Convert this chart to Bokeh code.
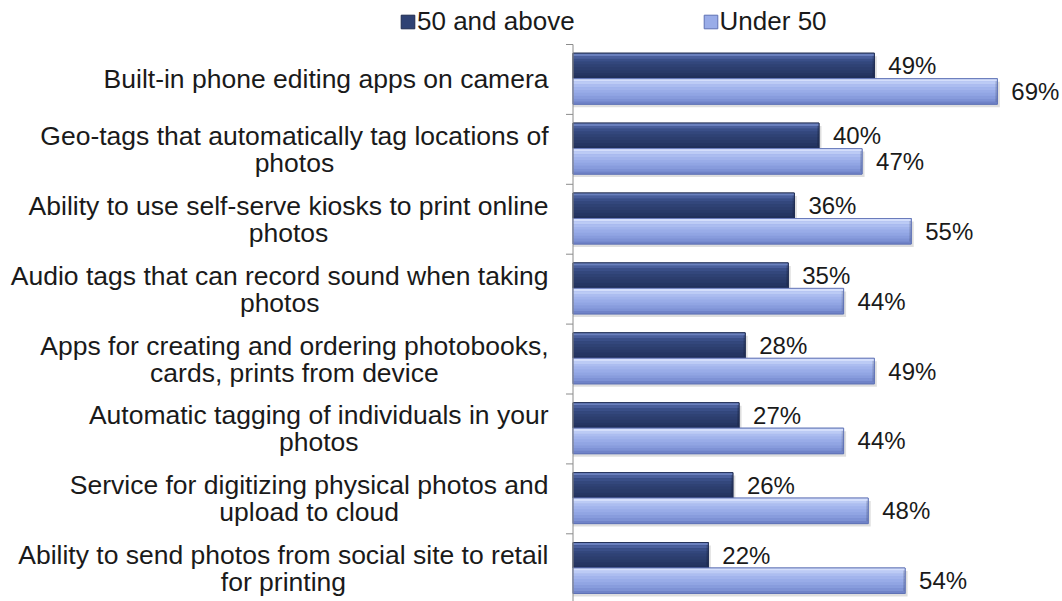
import numpy as np
from bokeh.plotting import figure
from bokeh.models import Range1d, ColumnDataSource, Legend, LegendItem
from bokeh.core.properties import value
from bokeh.embed import file_html
from bokeh.resources import INLINE

# ---- data -------------------------------------------------------------
categories = [
    "Built-in phone editing apps on camera",
    "Geo-tags that automatically tag locations of\nphotos",
    "Ability to use self-serve kiosks to print online\nphotos",
    "Audio tags that can record sound when taking\nphotos",
    "Apps for creating and ordering photobooks,\ncards, prints from device",
    "Automatic tagging of individuals in your\nphotos",
    "Service for digitizing physical photos and\nupload to cloud",
    "Ability to send photos from social site to retail\nfor printing",
]
above_50 = [49, 40, 36, 35, 28, 27, 26, 22]
under_50 = [69, 47, 55, 44, 49, 44, 48, 54]
series_names = ["50 and above", "Under 50"]

# ---- geometry (pixels) ------------------------------------------------
W, H = 1062, 601
PX_PER_PCT = 6.15      # horizontal scale
AXIS_PX = 572.5        # where the category axis sits
BAND_PX = 69.9         # height of one category band
TOP_PX = 44            # top of the first band
BAR_PX = 25.5          # thickness of one bar
BAR_GAP_PX = 8.7       # space above the first bar of a band
LABEL_PAD_PX = 24.5    # gap between labels and axis
LABEL_FONT_PX = 26.5
VALUE_FONT_PX = 24
LINE_PX = 27           # line spacing of wrapped labels
FONT = "Liberation Sans"
TEXT_COLOR = "#1A1A1A"
AXIS_COLOR = "#8C8C8C"

# Arial / Liberation Sans advance widths (1/1000 em), used to centre the
# second line of a wrapped label under the first one.
ADV = {' ': 278, '%': 889, ',': 278, '-': 333, '.': 278,
       'A': 667, 'B': 667, 'G': 778, 'S': 667,
       'a': 556, 'b': 556, 'c': 500, 'd': 556, 'e': 556, 'f': 278, 'g': 556,
       'h': 556, 'i': 222, 'j': 222, 'k': 500, 'l': 222, 'm': 833, 'n': 556,
       'o': 556, 'p': 556, 'q': 556, 'r': 333, 's': 500, 't': 278, 'u': 556,
       'v': 500, 'w': 722, 'x': 500, 'y': 500, 'z': 500}


def text_width(s, size):
    return sum(ADV.get(ch, 556) for ch in s) * size / 1000.0


x_range = Range1d(-AXIS_PX / PX_PER_PCT, (W - AXIS_PX) / PX_PER_PCT)
y_range = Range1d((H - TOP_PX) / BAND_PX, -TOP_PX / BAND_PX)

p = figure(width=W, height=H, x_range=x_range, y_range=y_range,
           output_backend="svg", toolbar_location=None,
           x_axis_location=None, y_axis_location=None,
           min_border=0, outline_line_color=None,
           background_fill_color="white", border_fill_color="white")
p.xgrid.visible = False
p.ygrid.visible = False

n = len(categories)
idx = np.arange(n)
bar_h = BAR_PX / BAND_PX
dark_c = idx + (BAR_GAP_PX + BAR_PX / 2) / BAND_PX
light_c = dark_c + bar_h

# top-to-bottom shading of each bar
dark_shades = ["#6A80BE", "#4A5F9C", "#3A4F88", "#33477C", "#2F4274",
               "#2C3E6E", "#293A68", "#253562", "#21305A"]
light_shades = ["#D4DEFB", "#BCCBF5", "#ACBDF0", "#A2B4EC", "#99ACE8",
                "#91A5E3", "#889CDD", "#7E92D5", "#7083C8"]
series = [
    (above_50, dark_c, dark_shades, "#2F4274", "#1E2B4F"),
    (under_50, light_c, light_shades, "#99ACE8", "#5E71B4"),
]

# soft drop shadows
for vals, cen, *_ in series:
    v = np.array(vals, dtype=float)
    p.hbar(y=cen + 3.0 / BAND_PX, left=0, right=v + 2.5 / PX_PER_PCT,
           height=bar_h, fill_color="#000000", fill_alpha=0.13,
           line_color=None)

legend_renderers = []
for vals, cen, shades, body, edge in series:
    v = np.array(vals, dtype=float)
    body_r = p.hbar(y=cen, left=0, right=v, height=bar_h,
                    fill_color=body, line_color=edge, line_width=1)
    legend_renderers.append(body_r)
    k = len(shades)
    sh = bar_h / k
    ys, rights, cols = [], [], []
    for j, col in enumerate(shades):
        ys.extend(cen - bar_h / 2 + (j + 0.5) * sh)
        rights.extend(v)
        cols.extend([col] * n)
    p.hbar(y=ys, left=0, right=rights, height=sh * 1.02,
           fill_color=cols, line_color=None)
    # darker bevel at the bar end
    p.hbar(y=cen, left=v - 2.0 / PX_PER_PCT, right=v, height=bar_h * 0.8,
           fill_color="#000000", fill_alpha=0.12, line_color=None)
    p.hbar(y=cen, left=0, right=v, height=bar_h,
           fill_color=None, line_color=edge, line_width=1, line_alpha=0.8)

# category axis line with ticks at the band boundaries
p.segment(x0=[0], y0=[0], x1=[0], y1=[n], line_color=AXIS_COLOR, line_width=1)
bounds = np.arange(n + 1)
p.segment(x0=np.full(n + 1, -7.0 / PX_PER_PCT), y0=bounds,
          x1=np.zeros(n + 1), y1=bounds, line_color=AXIS_COLOR, line_width=1)

# value labels
for vals, cen, *_ in series:
    src = ColumnDataSource(dict(x=vals, y=cen, t=[f"{v}%" for v in vals]))
    p.text(x="x", y="y", text="t", source=src, x_offset=14,
           text_font=value(FONT), text_font_size=f"{VALUE_FONT_PX}px",
           text_color=TEXT_COLOR, text_align="left", text_baseline="middle")

# category labels (wrapped lines centred under the first line)
r_t, r_y, r_yo = [], [], []
c_t, c_y, c_yo, c_xo = [], [], [], []
for i, cat in enumerate(categories):
    lines = cat.split("\n")
    mid = i + 0.5
    if len(lines) == 1:
        r_t.append(lines[0]); r_y.append(mid); r_yo.append(0)
    else:
        r_t.append(lines[0]); r_y.append(mid); r_yo.append(-LINE_PX / 2)
        w1 = text_width(lines[0], LABEL_FONT_PX)
        c_t.append(lines[1]); c_y.append(mid); c_yo.append(LINE_PX / 2)
        c_xo.append(-LABEL_PAD_PX - w1 / 2)

p.text(x=0, y="y", text="t", y_offset="yo", x_offset=-LABEL_PAD_PX,
       source=ColumnDataSource(dict(t=r_t, y=r_y, yo=r_yo)),
       text_font=value(FONT), text_font_size=f"{LABEL_FONT_PX}px",
       text_color=TEXT_COLOR, text_align="right", text_baseline="middle")
p.text(x=0, y="y", text="t", y_offset="yo", x_offset="xo",
       source=ColumnDataSource(dict(t=c_t, y=c_y, yo=c_yo, xo=c_xo)),
       text_font=value(FONT), text_font_size=f"{LABEL_FONT_PX}px",
       text_color=TEXT_COLOR, text_align="center", text_baseline="middle")

legend = Legend(
    items=[LegendItem(label=series_names[0], renderers=[legend_renderers[0]]),
           LegendItem(label=series_names[1], renderers=[legend_renderers[1]])],
    orientation="horizontal", location=(399, H - 37),
    glyph_width=17, glyph_height=17, label_standoff=1, spacing=127,
    padding=0, margin=0, border_line_color=None, background_fill_alpha=0,
    label_text_font=FONT, label_text_font_size="26px",
    label_text_color=TEXT_COLOR)
p.add_layout(legend)

open("out.html", "w").write(file_html(p, INLINE))
